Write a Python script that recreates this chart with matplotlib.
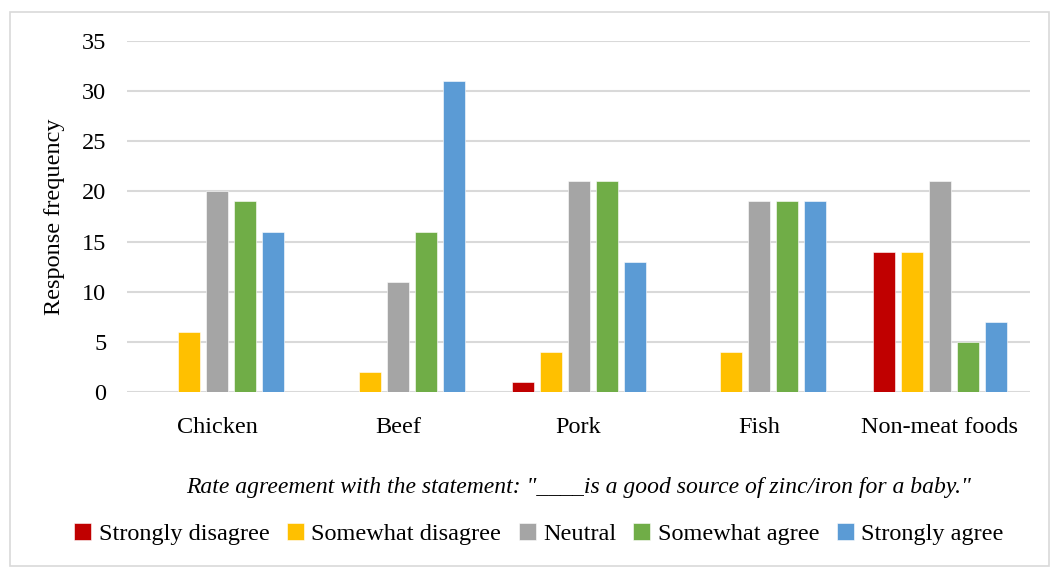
import matplotlib
matplotlib.use("Agg")
import matplotlib.pyplot as plt
import numpy as np
from matplotlib.patches import Rectangle

categories = ["Chicken", "Beef", "Pork", "Fish", "Non-meat foods"]
series_names = ["Strongly disagree", "Somewhat disagree", "Neutral", "Somewhat agree", "Strongly agree"]
strongly_disagree = [0, 0, 1, 0, 14]
somewhat_disagree = [6, 2, 4, 4, 14]
neutral = [20, 11, 21, 19, 21]
somewhat_agree = [19, 16, 21, 19, 5]
strongly_agree = [16, 31, 13, 19, 7]
yticks = [0, 5, 10, 15, 20, 25, 30, 35]

colors = ["#C00000", "#FFC000", "#A5A5A5", "#70AD47", "#5B9BD5"]
series = [strongly_disagree, somewhat_disagree, neutral, somewhat_agree, strongly_agree]

plt.rcParams["font.family"] = ["Liberation Serif", "DejaVu Serif"]

fig = plt.figure(figsize=(10.51, 5.67), dpi=100)
ax = fig.add_axes([0.121, 0.3086, 0.859, 0.6191])

x = np.arange(len(categories))
step = 0.155
width = 0.122
for i, (vals, name, c) in enumerate(zip(series, series_names, colors)):
    ax.bar(x + (i - 2) * step, vals, width=width, color=c, label=name,
           edgecolor="white", linewidth=0.4, zorder=3)

ax.set_xlim(-0.5, len(categories) - 0.5)
ax.set_ylim(0, 35)
ax.set_yticks(yticks)
ax.set_xticks(x)
ax.set_xticklabels(categories, fontsize=17.5)
ax.tick_params(axis="y", labelsize=17.5, length=0, pad=15)
ax.tick_params(axis="x", length=0, pad=18)
ax.grid(axis="y", color="#D9D9D9", linewidth=1.5, zorder=0)
for s in ax.spines.values():
    s.set_visible(False)

ax.set_ylabel("Response frequency", fontsize=17.5, labelpad=12)
ax.set_xlabel('Rate agreement with the statement: "____is a good source of zinc/iron for a baby."',
              fontsize=17, style="italic", labelpad=28)

ax.legend(loc="center", bbox_to_anchor=(0.456, -0.405), ncol=5, frameon=False,
          fontsize=17.5, handlelength=0.7, handleheight=0.7, handletextpad=0.3,
          columnspacing=0.72)

fig.patches.append(Rectangle((10 / 1051, 1 / 567), 1039 / 1051, 554 / 567,
                             transform=fig.transFigure, fill=False,
                             edgecolor="#D9D9D9", linewidth=1.2))

fig.savefig("out.png", dpi=100)
